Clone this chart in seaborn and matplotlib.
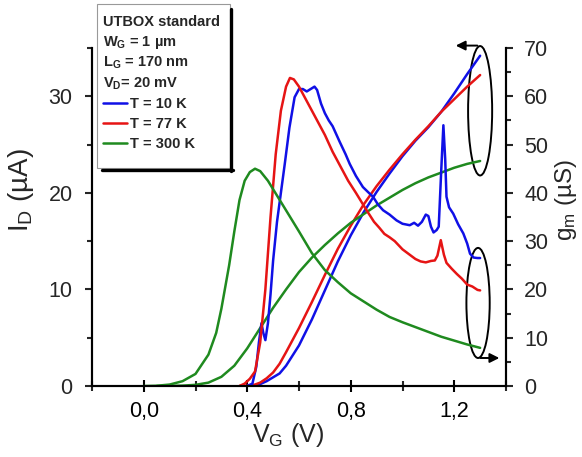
import matplotlib
matplotlib.use('Agg')
import matplotlib.pyplot as plt
import seaborn as sns
import pandas as pd
from matplotlib.patches import Ellipse, Rectangle
from matplotlib.lines import Line2D
from matplotlib.ticker import MultipleLocator

# ---- data ----
temps = ['T = 10 K', 'T = 77 K', 'T = 300 K']
colors = ['#1010e6', '#e61414', '#1f8a1f']

# drain current I_D (uA) vs V_G (V)
vg_id_10k = [0.40, 0.43, 0.45, 0.475, 0.50, 0.525, 0.55, 0.60, 0.65, 0.70, 0.75, 0.80, 0.85,
             0.90, 0.95, 1.00, 1.05, 1.10, 1.15, 1.20, 1.25, 1.30]
id_10k = [0.0, 0.05, 0.2, 0.5, 0.9, 1.3, 2.1, 4.2, 6.9, 9.9, 12.9, 15.6, 18.0,
          20.1, 22.0, 23.8, 25.4, 26.8, 28.4, 30.3, 32.3, 34.2]

vg_id_77k = [0.37, 0.41, 0.43, 0.45, 0.475, 0.50, 0.525, 0.55, 0.60, 0.65, 0.70, 0.75, 0.80,
             0.85, 0.90, 0.95, 1.00, 1.05, 1.10, 1.15, 1.20, 1.25, 1.30]
id_77k = [0.0, 0.05, 0.15, 0.35, 0.8, 1.4, 2.3, 3.5, 6.0, 8.7, 11.5, 14.2, 16.6,
          18.8, 20.7, 22.4, 24.0, 25.5, 26.9, 28.4, 29.7, 31.0, 32.2]

vg_id_300k = [0.05, 0.10, 0.15, 0.20, 0.25, 0.30, 0.35, 0.40, 0.45, 0.50, 0.55, 0.60, 0.65,
              0.70, 0.75, 0.80, 0.85, 0.90, 0.95, 1.00, 1.05, 1.10, 1.15, 1.20, 1.25, 1.30]
id_300k = [0.0, 0.01, 0.04, 0.12, 0.35, 0.95, 2.1, 3.9, 6.0, 8.1, 10.0, 11.8, 13.3,
           14.6, 15.8, 16.9, 17.8, 18.7, 19.5, 20.3, 21.0, 21.6, 22.1, 22.6, 23.0, 23.3]

# transconductance g_m (uS) vs V_G (V)
vg_gm_10k = [0.40, 0.42, 0.435, 0.445, 0.455, 0.462, 0.47, 0.48, 0.49, 0.50, 0.515, 0.53,
             0.545, 0.563, 0.583, 0.60, 0.615, 0.63, 0.645, 0.66, 0.67, 0.685, 0.70, 0.715,
             0.73, 0.757, 0.78, 0.796, 0.82, 0.847, 0.87, 0.886, 0.905, 0.925, 0.95, 0.977,
             1.00, 1.028, 1.045, 1.06, 1.075, 1.09, 1.10, 1.11, 1.12, 1.132, 1.14, 1.15,
             1.158, 1.165, 1.17, 1.18, 1.196, 1.215, 1.235, 1.25, 1.261, 1.275, 1.29, 1.30]
gm_10k = [0.0, 0.5, 4.0, 9.0, 13.0, 11.0, 9.5, 13.0, 19.0, 26.0, 34.0, 40.0,
          46.0, 53.5, 59.8, 61.5, 61.5, 61.0, 61.5, 62.0, 61.3, 58.5, 56.5, 55.0,
          53.8, 50.6, 48.0, 46.0, 43.5, 41.2, 40.0, 39.2, 37.6, 36.4, 35.5, 34.3,
          33.6, 33.3, 33.8, 33.2, 34.0, 35.5, 35.2, 33.0, 31.8, 32.3, 33.0, 45.0,
          54.0, 47.0, 39.2, 37.0, 35.7, 33.5, 31.6, 29.5, 27.4, 26.6, 26.5, 26.5]

vg_gm_77k = [0.37, 0.39, 0.41, 0.43, 0.45, 0.47, 0.49, 0.51, 0.53, 0.55, 0.565, 0.58, 0.60,
             0.62, 0.64, 0.67, 0.70, 0.73, 0.76, 0.79, 0.82, 0.86, 0.89, 0.91, 0.93, 0.95,
             0.97, 1.00, 1.02, 1.05, 1.07, 1.09, 1.11, 1.125, 1.135, 1.148, 1.16, 1.17,
             1.19, 1.21, 1.23, 1.25, 1.27, 1.29, 1.30]
gm_77k = [0.0, 0.5, 1.5, 3.0, 9.0, 20.0, 35.0, 48.0, 57.0, 62.0, 63.8, 63.5, 62.0,
          60.0, 58.0, 55.0, 52.0, 48.5, 45.5, 42.5, 40.0, 36.5, 34.0, 32.8, 31.5, 30.8,
          30.0, 28.3, 27.5, 26.3, 25.8, 25.6, 25.9, 26.0, 27.0, 30.2, 27.2, 25.5,
          24.3, 23.2, 22.2, 21.0, 20.6, 19.9, 19.8]

vg_gm_300k = [0.0, 0.05, 0.10, 0.15, 0.20, 0.25, 0.28, 0.30, 0.33, 0.35, 0.37, 0.39, 0.41,
              0.43, 0.45, 0.48, 0.52, 0.56, 0.60, 0.65, 0.70, 0.75, 0.80, 0.85, 0.90, 0.95,
              1.00, 1.05, 1.10, 1.15, 1.20, 1.25, 1.30]
gm_300k = [0.0, 0.05, 0.3, 1.0, 2.5, 6.5, 11.0, 16.0, 25.0, 32.0, 38.5, 42.5, 44.3,
           45.0, 44.5, 42.5, 39.0, 35.5, 32.0, 27.5, 24.0, 21.5, 19.2, 17.5, 15.8, 14.3,
           13.2, 12.2, 11.2, 10.2, 9.4, 8.6, 7.9]

xtick_vals = [0.0, 0.4, 0.8, 1.2]
xtick_labels = ['0,0', '0,4', '0,8', '1,2']
legend_header = ['UTBOX standard', r'$\mathbf{W_G}$ = 1 µm',
                 r'$\mathbf{L_G}$ = 170 nm', r'$\mathbf{V_D}$= 20 mV']


def frame(vg_lists, val_lists):
    parts = []
    for t, vg, val in zip(temps, vg_lists, val_lists):
        parts.append(pd.DataFrame({'vg': vg, 'val': val, 'T': t}))
    return pd.concat(parts, ignore_index=True)


df_id = frame([vg_id_10k, vg_id_77k, vg_id_300k], [id_10k, id_77k, id_300k])
df_gm = frame([vg_gm_10k, vg_gm_77k, vg_gm_300k], [gm_10k, gm_77k, gm_300k])

sns.set_style('ticks')
plt.rcParams['font.family'] = ['Liberation Sans', 'DejaVu Sans']
plt.rcParams['mathtext.fontset'] = 'custom'
plt.rcParams['mathtext.rm'] = 'Liberation Sans'
plt.rcParams['mathtext.bf'] = 'Liberation Sans:bold'
plt.rcParams['mathtext.it'] = 'Liberation Sans:italic'

W, H = 582, 457
fig = plt.figure(figsize=(W / 100, H / 100), dpi=100)
ax = fig.add_axes([92 / W, 1 - 386 / H, 414 / W, 338 / H])
ax2 = ax.twinx()

pal = dict(zip(temps, colors))
sns.lineplot(data=df_id, x='vg', y='val', hue='T', palette=pal, ax=ax,
             legend=False, sort=False, estimator=None, linewidth=1.8)
sns.lineplot(data=df_gm, x='vg', y='val', hue='T', palette=pal, ax=ax2,
             legend=False, sort=False, estimator=None, linewidth=1.8)

ax.set_xlim(-0.2, 1.4)
ax.set_ylim(0, 35)
ax2.set_ylim(0, 70)

for a in (ax, ax2):
    a.spines['top'].set_visible(False)
    for s in ('left', 'right', 'bottom'):
        a.spines[s].set_linewidth(1.5)
        a.spines[s].set_color('black')
    a.patch.set_visible(False)

ax.set_xticks(xtick_vals)
ax.set_xticklabels(xtick_labels)
ax.xaxis.set_minor_locator(MultipleLocator(0.2))
ax.set_yticks([0, 10, 20, 30])
ax.yaxis.set_minor_locator(MultipleLocator(5))
ax2.set_yticks(range(0, 80, 10))
ax2.yaxis.set_minor_locator(MultipleLocator(5))

ax.tick_params(axis='x', which='major', direction='inout', length=9, width=1.5,
               labelsize=15.5, pad=6, colors='black')
ax.tick_params(axis='x', which='minor', direction='inout', length=7, width=1.5)
ax.tick_params(axis='y', which='major', direction='out', length=5, width=1.5,
               labelsize=15.5, pad=9)
ax.tick_params(axis='y', which='minor', direction='out', length=3.5, width=1.5)
ax2.tick_params(axis='y', which='major', direction='out', length=5, width=1.5,
                labelsize=15.5, pad=8)
ax2.tick_params(axis='y', which='minor', direction='out', length=3.5, width=1.5)

ax.set_xlabel(r'$\mathrm{V_G}$ (V)', fontsize=18)
ax.xaxis.set_label_coords(0.473, -0.105)
ax.set_ylabel(r'$\mathrm{I_D}$ (µA)', fontsize=20)
ax.yaxis.set_label_coords(-0.135, 0.58)
ax2.set_ylabel(r'$\mathrm{g_m}$ (µS)', fontsize=17.5, rotation=90)
ax2.yaxis.set_label_coords(1.113, 0.55)

# ellipses and arrows marking which axis each family belongs to
ax.add_patch(Ellipse((1.30, 28.5), 0.093, 13.4, fill=False, lw=1.4,
                     edgecolor='black', clip_on=False))
ax.add_patch(Ellipse((1.292, 8.6), 0.09, 11.4, fill=False, lw=1.4,
                     edgecolor='black', clip_on=False))
ax.annotate('', xy=(1.195, 35.25), xytext=(1.30, 35.25), annotation_clip=False,
            arrowprops=dict(arrowstyle='-|>', color='black', lw=1.4, mutation_scale=14))
ax.annotate('', xy=(1.385, 2.9), xytext=(1.29, 2.9), annotation_clip=False,
            arrowprops=dict(arrowstyle='-|>', color='black', lw=1.4, mutation_scale=14))


# legend box drawn in figure pixels
def fx(px):
    return px / W


def fy(py):
    return 1 - py / H


fig.add_artist(Line2D([fx(231.5), fx(231.5)], [fy(9), fy(171)], color='black', lw=2.4,
                      transform=fig.transFigure))
fig.add_artist(Line2D([fx(102), fx(233)], [fy(170), fy(170)], color='black', lw=2.4,
                      transform=fig.transFigure))
fig.add_artist(Rectangle((fx(97), fy(168)), fx(230) - fx(97), fy(4) - fy(168),
                         facecolor='white', edgecolor='#999999', lw=0.8,
                         transform=fig.transFigure))

row_y = [20, 40, 61, 82, 103, 123, 143]
for i, txt in enumerate(legend_header):
    fig.text(fx(102.5), fy(row_y[i]), txt, fontsize=10.5, fontweight='bold',
             va='center_baseline', ha='left')
for j, (t, c) in enumerate(zip(temps, colors)):
    yy = fy(row_y[4 + j])
    fig.add_artist(Line2D([fx(102.5), fx(127)], [yy, yy], color=c, lw=1.8,
                          transform=fig.transFigure))
    fig.text(fx(130.5), yy, t, fontsize=10.5, fontweight='bold',
             va='center_baseline', ha='left')

fig.savefig('out.png', dpi=100)
